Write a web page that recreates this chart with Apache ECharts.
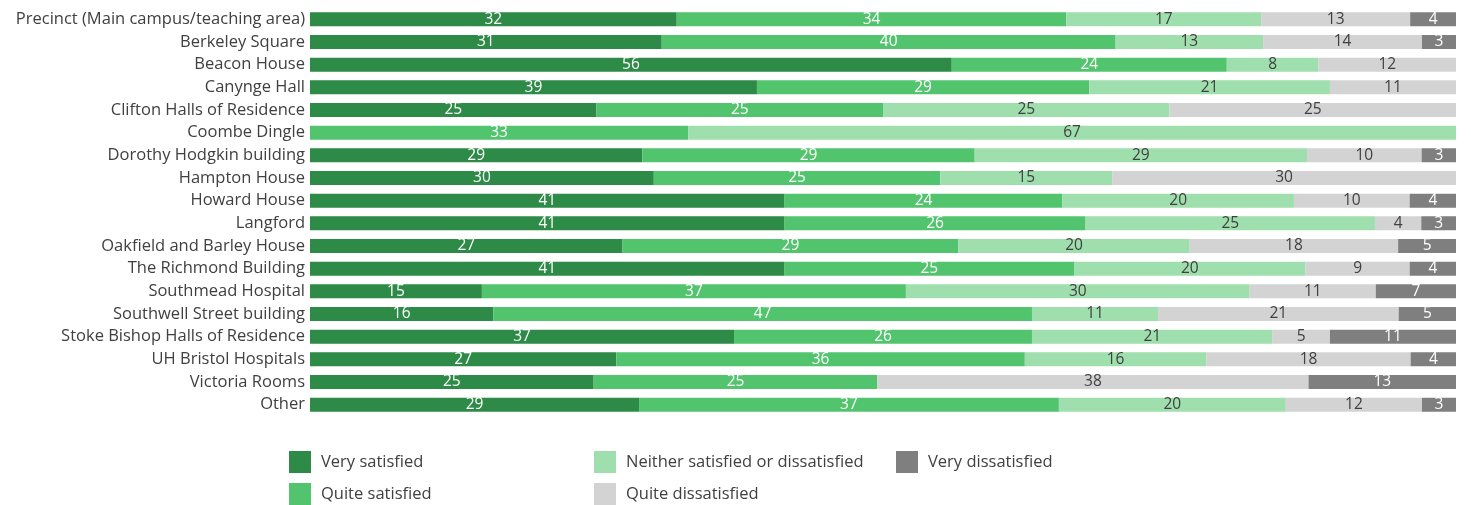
<!DOCTYPE html>
<html>
<head>
<meta charset="utf-8">
<script src="https://cdn.jsdelivr.net/npm/echarts@6/dist/echarts.min.js"></script>
<style>html,body{margin:0;padding:0;background:#fff}#c{width:1471px;height:505px}</style>
</head>
<body>
<div id="c"></div>
<script>
const categories = ["Precinct (Main campus/teaching area)","Berkeley Square","Beacon House","Canynge Hall","Clifton Halls of Residence","Coombe Dingle","Dorothy Hodgkin building","Hampton House","Howard House","Langford","Oakfield and Barley House","The Richmond Building","Southmead Hospital","Southwell Street building","Stoke Bishop Halls of Residence","UH Bristol Hospitals","Victoria Rooms","Other"];
const seriesNames = ["Very satisfied","Quite satisfied","Neither satisfied or dissatisfied","Quite dissatisfied","Very dissatisfied"];
const verySatisfied   = [32,31,56,39,25,0,29,30,41,41,27,41,15,16,37,27,25,29];
const quiteSatisfied  = [34,40,24,29,25,33,29,25,24,26,29,25,37,47,26,36,25,37];
const neither         = [17,13,8,21,25,67,29,15,20,25,20,20,30,11,21,16,0,20];
const quiteDissatisfied = [13,14,12,11,25,0,10,30,10,4,18,9,11,21,5,18,38,12];
const veryDissatisfied  = [4,3,0,0,0,0,3,0,4,3,5,4,7,5,11,4,13,3];

const raw = [verySatisfied, quiteSatisfied, neither, quiteDissatisfied, veryDissatisfied];
const colors = ["#2e8b47","#52c46d","#9fdfad","#d3d3d3","#7f7f7f"];
const labelColors = ["#ffffff","#ffffff","#404040","#404040","#ffffff"];
const FONT = "Open Sans";

const totals = categories.map((_, i) => raw.reduce((s, arr) => s + arr[i], 0));

const series = raw.map((arr, si) => ({
  name: seriesNames[si],
  type: 'bar',
  stack: 'total',
  barWidth: '62%',
  itemStyle: { color: colors[si] },
  label: {
    show: true,
    position: 'inside',
    color: labelColors[si],
    fontFamily: FONT,
    fontSize: 15.5,
    formatter: p => p.data.raw > 0 ? String(p.data.raw) : ''
  },
  data: arr.map((v, i) => ({ value: v / totals[i] * 100, raw: v }))
}));

const legendBase = {
  orient: 'vertical',
  top: 451,
  height: 80,
  padding: 0,
  itemWidth: 22,
  itemHeight: 22,
  itemGap: 10,
  icon: 'rect',
  textStyle: { fontFamily: FONT, fontSize: 16.5, color: '#404040', padding: [0,0,0,5] },
  selectedMode: false
};

const chart = echarts.init(document.getElementById('c'), null, { renderer: 'canvas' });
chart.setOption({
  animation: false,
  grid: { left: 310, right: 15, top: 8, bottom: 89, containLabel: false },
  xAxis: { type: 'value', min: 0, max: 100, show: false },
  yAxis: {
    type: 'category',
    data: categories,
    inverse: true,
    axisLine: { show: false },
    axisTick: { show: false },
    axisLabel: { fontFamily: FONT, fontSize: 16.5, color: '#404040', margin: 5 }
  },
  legend: [
    Object.assign({}, legendBase, { left: 289, data: [seriesNames[0], seriesNames[1]] }),
    Object.assign({}, legendBase, { left: 594, data: [seriesNames[2], seriesNames[3]] }),
    Object.assign({}, legendBase, { left: 896, data: [seriesNames[4]] })
  ],
  series: series
});
</script>
</body>
</html>
